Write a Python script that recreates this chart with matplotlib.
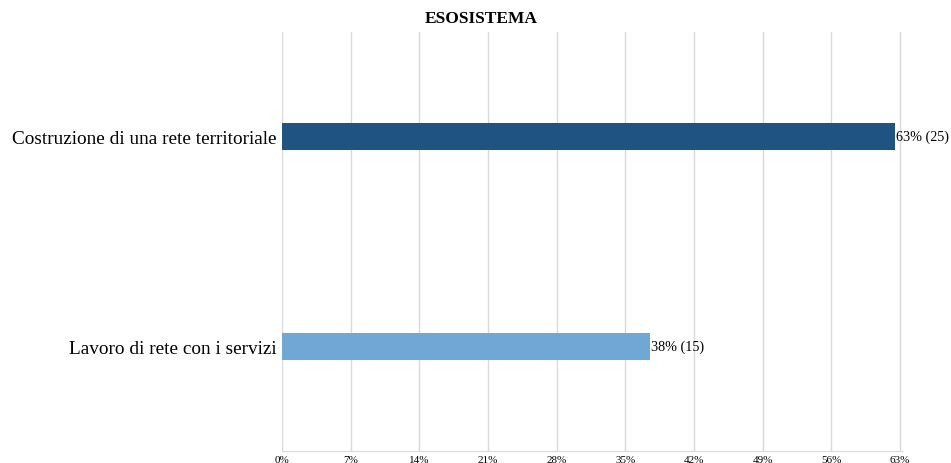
import math
import matplotlib
matplotlib.use("Agg")
import matplotlib.pyplot as plt

# Risposte per voce (su 40 rispondenti)
categories = ["Costruzione di una rete territoriale", "Lavoro di rete con i servizi"]
counts = [25, 15]
total = 40
colors = ["#1f5482", "#6fa7d5"]
ticks = [0, 7, 14, 21, 28, 35, 42, 49, 56, 63]

plt.rcParams["font.family"] = ["Liberation Serif", "DejaVu Serif"]

fig = plt.figure(figsize=(9.51, 4.64), dpi=100)
ax = fig.add_axes([282 / 951, 12 / 464, 620 / 951, 419 / 464])

pcts = [c / total * 100 for c in counts]
pos = list(range(len(categories)))
ax.barh(pos, pcts, height=0.13, color=colors, zorder=3)

for y, p, c in zip(pos, pcts, counts):
    label = f"{math.floor(p + 0.5)}% ({c})"
    ax.text(p + 0.1, y, label, va="center", ha="left", fontsize=10.2, zorder=4)

ax.set_xlim(0, 63.2)
ax.set_ylim(1.5, -0.5)
ax.set_xticks(ticks)
ax.set_xticklabels([f"{t}%" for t in ticks], fontsize=8)
ax.set_yticks(pos)
ax.set_yticklabels(categories, fontsize=13.9)
ax.tick_params(axis="both", length=0, pad=3)
ax.tick_params(axis="y", pad=4)
ax.grid(axis="x", color="#d9d9d9", linewidth=1, zorder=0)
for s in ["top", "right", "left"]:
    ax.spines[s].set_visible(False)
ax.spines["bottom"].set_color("#d9d9d9")

fig.text(481 / 951, 1 - 19 / 464, "ESOSISTEMA", ha="center", va="center",
         fontsize=12.5, fontweight="bold")

fig.savefig("out.png", dpi=100)
